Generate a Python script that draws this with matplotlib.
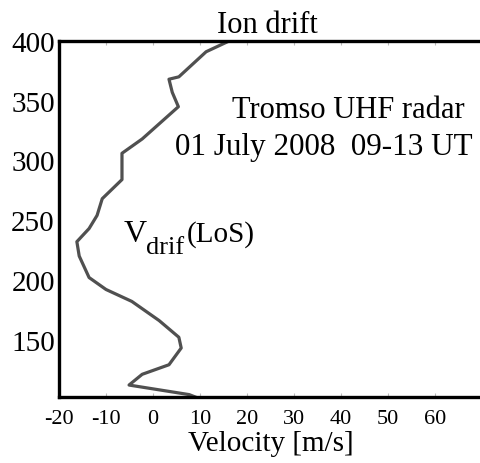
import numpy as np
import matplotlib
matplotlib.use("Agg")
import matplotlib.pyplot as plt

# ion drift profile
altitude = [400, 391, 370, 368, 357, 345, 318, 306, 284, 268, 254, 243, 232,
            220, 202, 192, 182, 166, 152, 143, 129, 121, 112, 104, 102]
velocity = [16.2, 11.3, 5.5, 3.4, 4.1, 5.4, -2.3, -6.6, -6.6, -10.8, -11.9,
            -13.6, -16.2, -15.7, -13.6, -10.0, -4.5, 1.3, 5.5, 6.0, 3.4, -2.3,
            -5.1, 7.7, 9.0]
xticks = list(range(-20, 61, 10))
yticks = list(range(150, 401, 50))

plt.rcParams['font.family'] = ['Liberation Serif', 'DejaVu Serif']
plt.rcParams['axes.unicode_minus'] = False

W, H = 480, 464
fig = plt.figure(figsize=(W / 100, H / 100), dpi=100)
ax = fig.add_axes([59 / W, (H - 398) / H, 423 / W, 356 / H])

ax.plot(velocity, altitude, color='#505050', lw=2.3, solid_joinstyle='round')

ax.set_xlim(-20, 70)
ax.set_ylim(102, 400)
ax.set_xticks(xticks)
ax.set_yticks(yticks)
ax.tick_params(axis='x', labelsize=16, direction='in', length=3, color='#bbbbbb',
               top=True, pad=9)
ax.tick_params(axis='y', labelsize=21, direction='in', length=0, pad=3)
for s in ['left', 'bottom', 'top']:
    ax.spines[s].set_linewidth(2.4)
ax.spines['right'].set_visible(False)

ax.set_xlabel('Velocity [m/s]', fontsize=21, labelpad=1)


def px(x, y):
    return x / W, 1 - y / H


fig.text(*px(267, 33), 'Ion drift', fontsize=22, ha='center', va='baseline')
fig.text(*px(348, 118), 'Tromso UHF radar', fontsize=22, ha='center', va='baseline')
fig.text(*px(175, 155), '01 July 2008  09-13 UT', fontsize=22.4, ha='left', va='baseline')
fig.text(*px(124, 242), 'V', fontsize=23, ha='left', va='baseline')
fig.text(*px(146, 254), 'drif', fontsize=19, ha='left', va='baseline')
fig.text(*px(187, 242), '(LoS)', fontsize=21, ha='left', va='baseline')

fig.savefig('out.png', dpi=100)
